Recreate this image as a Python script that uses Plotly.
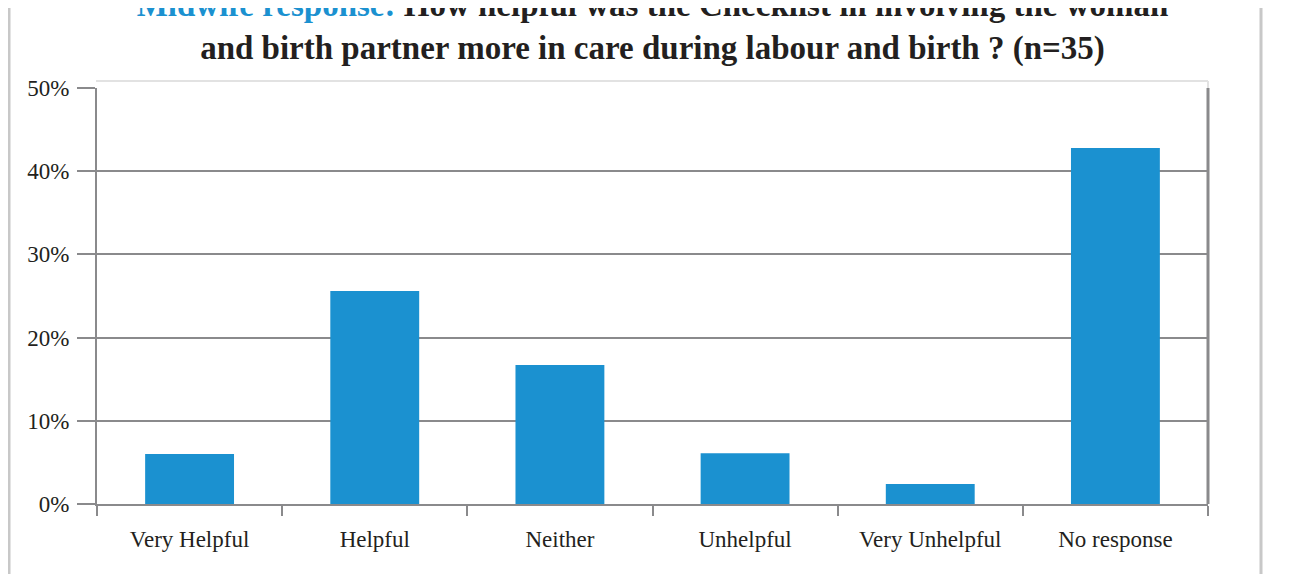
import plotly.graph_objects as go

categories = ["Very Helpful", "Helpful", "Neither", "Unhelpful", "Very Unhelpful", "No response"]
percent = [6.0, 25.6, 16.7, 6.1, 2.4, 42.8]
y_ticks = [0, 10, 20, 30, 40, 50]
y_tick_labels = ["0%", "10%", "20%", "30%", "40%", "50%"]

blue = "#1b91d0"
serif = "Liberation Serif, Times New Roman, serif"

# the page body adds an 8px offset, so everything is placed 8px up/left
OFF = 8
W, H = 1313, 574
margin = dict(l=97 - OFF, r=W - (1208 - OFF), t=88 - OFF, b=H - (504 - OFF))
pw = W - margin["l"] - margin["r"]
ph = H - margin["t"] - margin["b"]


def px_x(p):
    return (p - OFF - margin["l"]) / pw


def px_y(p):
    return (H - margin["b"] - (p - OFF)) / ph


fig = go.Figure()
fig.add_bar(x=categories, y=percent, marker_color=blue, marker_line_width=0, width=0.48)

fig.update_layout(
    width=W,
    height=H,
    margin=margin,
    plot_bgcolor="white",
    paper_bgcolor="white",
    font=dict(family=serif, size=23, color="#231f20"),
    showlegend=False,
    title=dict(
        text="<b><span style='color:%s'>Midwife response:</span> How helpful was the Checklist in involving the woman"
        "<br>and birth partner more in care during labour and birth ? (n=35)</b>" % blue,
        x=0.5,
        xanchor="center",
        xref="paper",
        yref="container",
        y=1 - 8 / H,
        yanchor="middle",
        font=dict(family=serif, size=33, color="#231f20"),
    ),
    xaxis=dict(
        showline=True,
        linecolor="#8a8a8c",
        linewidth=2,
        ticks="outside",
        tickson="boundaries",
        ticklen=10,
        tickwidth=2,
        tickcolor="#8a8a8c",
        showgrid=False,
        ticklabelstandoff=13,
        tickfont=dict(size=23),
    ),
    yaxis=dict(
        range=[0, 50],
        tickvals=y_ticks,
        ticktext=y_tick_labels,
        showline=True,
        linecolor="#8a8a8c",
        linewidth=2,
        ticks="outside",
        ticklen=18,
        tickwidth=2,
        tickcolor="#8a8a8c",
        showgrid=True,
        gridcolor="#8a8a8c",
        gridwidth=1.5,
        zeroline=False,
        ticklabelstandoff=3,
        tickfont=dict(size=23),
    ),
)

# right border of plot area
fig.add_shape(type="line", xref="paper", yref="paper", x0=1, x1=1, y0=0, y1=1,
              line=dict(color="#8a8a8c", width=3))
# faint frame line just above the plot area
fig.add_shape(type="line", xref="paper", yref="paper", x0=px_x(96), x1=px_x(1208),
              y0=px_y(81), y1=px_y(81), line=dict(color="#e2e2e2", width=2))
fig.add_shape(type="line", xref="paper", yref="paper", x0=px_x(1208), x1=px_x(1208),
              y0=px_y(81), y1=px_y(88), line=dict(color="#e2e2e2", width=2))
# outer page frame lines
for xp in (9, 1261):
    fig.add_shape(type="line", xref="paper", yref="paper", x0=px_x(xp), x1=px_x(xp),
                  y0=px_y(H), y1=px_y(0), line=dict(color="#c8c8c8", width=3))

fig.write_html("out.html")
